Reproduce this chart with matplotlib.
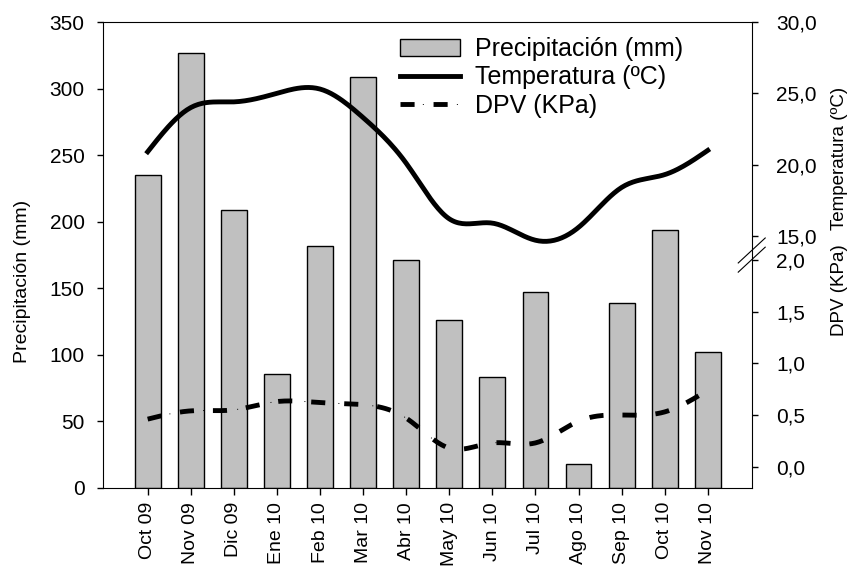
import numpy as np
import matplotlib
matplotlib.use("Agg")
import matplotlib.pyplot as plt
from matplotlib.ticker import FuncFormatter

plt.rcParams['font.family'] = ['Liberation Sans', 'DejaVu Sans']

meses = ['Oct 09', 'Nov 09', 'Dic 09', 'Ene 10', 'Feb 10', 'Mar 10', 'Abr 10',
         'May 10', 'Jun 10', 'Jul 10', 'Ago 10', 'Sep 10', 'Oct 10', 'Nov 10']
precipitacion = [235, 327, 209, 85.5, 182, 309, 171, 126, 83, 147, 18, 139, 193.5, 102]
temperatura = [20.9, 24.0, 24.4, 25.0, 25.3, 23.3, 20.1, 16.2, 15.9, 14.7, 15.6, 18.4, 19.3, 21.0]
dpv = [0.46, 0.54, 0.55, 0.63, 0.62, 0.60, 0.47, 0.18, 0.23, 0.23, 0.44, 0.50, 0.53, 0.74]


def spline(x, y, n=300):
    # natural cubic spline, used only to draw the smooth curves
    x = np.asarray(x, float)
    y = np.asarray(y, float)
    k = len(x)
    h = np.diff(x)
    A = np.zeros((k, k))
    b = np.zeros(k)
    A[0, 0] = A[-1, -1] = 1
    for i in range(1, k - 1):
        A[i, i - 1] = h[i - 1]
        A[i, i] = 2 * (h[i - 1] + h[i])
        A[i, i + 1] = h[i]
        b[i] = 6 * ((y[i + 1] - y[i]) / h[i] - (y[i] - y[i - 1]) / h[i - 1])
    M = np.linalg.solve(A, b)
    xs = np.linspace(x[0], x[-1], n)
    j = np.clip(np.searchsorted(x, xs) - 1, 0, k - 2)
    t0 = x[j + 1] - xs
    t1 = xs - x[j]
    hs = h[j]
    ys = (M[j] * t0 ** 3 + M[j + 1] * t1 ** 3) / (6 * hs) \
        + (y[j] / hs - M[j] * hs / 6) * t0 + (y[j + 1] / hs - M[j + 1] * hs / 6) * t1
    return xs, ys


x = np.arange(len(meses))
coma = FuncFormatter(lambda v, p: ('%.1f' % v).replace('.', ','))

fig = plt.figure(figsize=(8.55, 5.76), dpi=100)
ax = fig.add_axes([0.1208, 0.1528, 0.7584, 0.8090])

barras = ax.bar(x, precipitacion, width=0.6, color='#c0c0c0', edgecolor='black',
                linewidth=1, label='Precipitación (mm)')
ax.set_xlim(-1.03, 14.02)
ax.set_ylim(0, 350)
ax.set_yticks(range(0, 351, 50))
ax.set_xticks(x)
ax.set_xticklabels(meses, rotation=90, fontsize=14)
ax.tick_params(axis='y', labelsize=15, length=4.5, width=1, pad=9)
ax.tick_params(axis='x', length=5, width=1, pad=5)
ax.set_ylabel('Precipitación (mm)', fontsize=14)
ax.yaxis.set_label_coords(-0.111, 0.444)
ax.spines['right'].set_visible(False)

# temperature, top part of the right axis
ax_t = ax.twinx()
ax_t.set_position(ax.get_position())
xs, ts = spline(x, temperatura)
linea_t, = ax_t.plot(xs, ts, color='black', linewidth=3.5, label='Temperatura (ºC)')
ax_t.set_ylim(-2.67, 30)
ax_t.set_yticks([15, 20, 25, 30])
ax_t.yaxis.set_major_formatter(coma)
ax_t.tick_params(axis='y', labelsize=15, length=4.5, width=1, pad=13)
ax_t.set_ylabel('Temperatura (ºC)', fontsize=13.5)
ax_t.yaxis.set_label_coords(1.123, 0.708)
for s in ['left', 'top', 'bottom']:
    ax_t.spines[s].set_visible(False)

# vapour pressure deficit, bottom part of the right axis
ax_d = ax.twinx()
ax_d.set_position(ax.get_position())
xs, ds = spline(x, dpv)
linea_d, = ax_d.plot(xs, ds, color='black', linewidth=3.5,
                     linestyle=(0, (2.9, 3.9)), label='DPV (KPa)')
punto_d, = ax_d.plot(xs, ds, color='black', linewidth=0.7,
                     linestyle=(12.0, (1.0, 34.0)))
ax_d.set_ylim(-0.206, 4.302)
ax_d.set_yticks([0, 0.5, 1.0, 1.5, 2.0])
ax_d.yaxis.set_major_formatter(coma)
ax_d.tick_params(axis='y', labelsize=15, length=4.5, width=1, pad=13)
ax_d.set_ylabel('DPV (KPa)', fontsize=13.5)
ax_d.yaxis.set_label_coords(1.123, 0.425)
for s in ax_d.spines.values():
    s.set_visible(False)

# axis break marks on the right spine
for yc in [0.5097, 0.490]:
    ax_d.plot([1 - 0.0208, 1 + 0.0208], [yc - 0.0268, yc + 0.0268],
              transform=ax_d.transAxes, color='black', linewidth=0.8, clip_on=False)

ax_d.legend([barras, linea_t, (linea_d, punto_d)],
            ['Precipitación (mm)', 'Temperatura (ºC)', 'DPV (KPa)'],
            loc='upper left', bbox_to_anchor=(0.4305, 1.005), frameon=False,
            fontsize=18, handlelength=2.4, handletextpad=0.6, labelspacing=0.17,
            borderaxespad=0.3)

plt.savefig('out.png', dpi=100)
